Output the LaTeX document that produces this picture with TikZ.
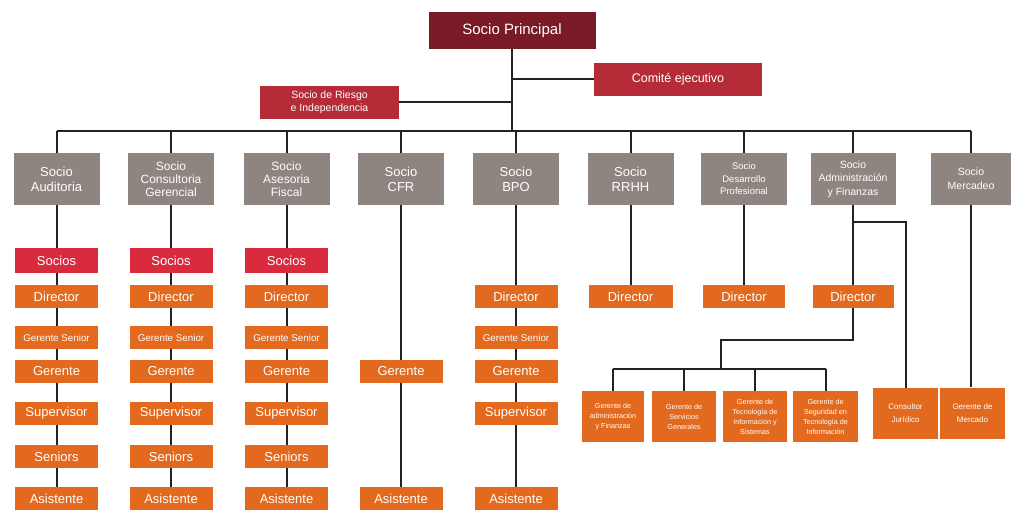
\documentclass[tikz,border=0pt]{standalone}
\usepackage{fontspec}
\setmainfont{Liberation Sans}
\definecolor{cgray}{HTML}{8E8580}
\definecolor{corange}{HTML}{E2691E}
\definecolor{csocios}{HTML}{DA2B3E}
\definecolor{cmaroon}{HTML}{7A1A27}
\definecolor{cred}{HTML}{B52B37}
\definecolor{cline}{HTML}{222222}
\tikzset{
  box/.style={inner sep=0pt, align=center, text=white, font=\fontsize{13}{15}\selectfont},
  graybox/.style={box, fill=cgray, minimum width=86pt, minimum height=52pt},
  obox/.style={box, fill=corange, minimum width=83pt, minimum height=23pt},
  sbox/.style={box, fill=csocios, minimum width=83pt, minimum height=25pt},
  hbox/.style={box, fill=corange, minimum width=64pt, minimum height=51pt, font=\fontsize{7.2}{10}\selectfont},
  gsfont/.style={font=\fontsize{9.8}{11}\selectfont},
  conn/.style={draw=cline, line width=2pt}
}
\begin{document}
\begin{tikzpicture}[x=1pt,y=-1pt]
\useasboundingbox (0,0) rectangle (1011,510);
% top
\node[box, fill=cmaroon, minimum width=167pt, minimum height=37pt, font=\fontsize{15}{17}\selectfont] (sp) at (512,30.5) {Socio Principal};
\node[box, fill=cred, minimum width=168pt, minimum height=33pt, font=\fontsize{12.5}{14}\selectfont] (ce) at (678,79.5) {Comité ejecutivo};
\node[box, fill=cred, minimum width=139pt, minimum height=33pt, font=\fontsize{10.5}{13}\selectfont] (sr) at (329.5,102.5) {Socio de Riesgo\\e Independencia};
% gray partners
\node[graybox] (g1) at (56.5,179) {Socio\\Auditoria};
\node[graybox, font=\fontsize{12}{13}\selectfont] (g2) at (171,179) {Socio\\Consultoria\\Gerencial};
\node[graybox, font=\fontsize{12}{13}\selectfont] (g3) at (286.5,179) {Socio\\Asesoria\\Fiscal};
\node[graybox] (g4) at (401,179) {Socio\\CFR};
\node[graybox] (g5) at (516,179) {Socio\\BPO};
\node[graybox] (g6) at (630.5,179) {Socio\\RRHH};
\node[graybox, font=\fontsize{9.5}{12.5}\selectfont] (g7) at (744,179) {Socio\\Desarrollo\\Profesional};
\node[graybox, minimum width=85pt, font=\fontsize{10.5}{13.5}\selectfont] (g8) at (853,179) {Socio\\Administración\\y Finanzas};
\node[graybox, minimum width=81pt, font=\fontsize{10.5}{14}\selectfont] (g9) at (971,179) {Socio\\Mercadeo};
% columns 1-3
\foreach \c/\x in {1/56.5,2/171,3/286.5}{
  \node[sbox] (s\c) at (\x,260.5) {Socios};
  \node[obox] (d\c) at (\x,296.5) {Director};
  \node[obox, gsfont] (gs\c) at (\x,337.5) {Gerente Senior};
  \node[obox] (ge\c) at (\x,371.5) {Gerente};
  \node[obox] (su\c) at (\x,413.5) {Supervisor};
  \node[obox] (se\c) at (\x,456.5) {Seniors};
  \node[obox] (as\c) at (\x,498.5) {Asistente};
}
% CFR
\node[obox] (ge4) at (401,371.5) {Gerente};
\node[obox] (as4) at (401,498.5) {Asistente};
% BPO
\node[obox] (d5) at (516,296.5) {Director};
\node[obox, gsfont] (gs5) at (516,337.5) {Gerente Senior};
\node[obox] (ge5) at (516,371.5) {Gerente};
\node[obox] (su5) at (516,413.5) {Supervisor};
\node[obox] (as5) at (516,498.5) {Asistente};
% RRHH, Desarrollo, Admin directors
\node[obox, minimum width=84pt] (d6) at (630.5,296.5) {Director};
\node[obox, minimum width=82pt] (d7) at (744,296.5) {Director};
\node[obox, minimum width=81pt] (d8) at (853,296.5) {Director};
% Admin sub-boxes
\node[hbox, minimum width=62pt] (h1) at (613,416.5) {Gerente de\\administración\\y Finanzas};
\node[hbox] (h2) at (684,416.5) {Gerente de\\Servicios\\Generales};
\node[hbox] (h3) at (755,416.5) {Gerente de\\Tecnología de\\Información y\\Sistemas};
\node[hbox, minimum width=65pt] (h4) at (825.5,416.5) {Gerente de\\Seguridad en\\Tecnología de\\Información};
\node[hbox, minimum width=65pt, font=\fontsize{8}{13}\selectfont] (cj) at (905.5,413.5) {Consultor\\Jurídico};
\node[hbox, minimum width=65pt, font=\fontsize{8}{13}\selectfont] (gm) at (972.5,413) {Gerente de\\Mercado};
% coordinates
\coordinate (busL) at (56.5,131);
\coordinate (busR) at (971,131);
\coordinate (aj) at (853,222);
\coordinate (dk) at (721,340);
\coordinate (hb) at (721,369);
% connectors top
\draw[conn] (sp.south) -- (sp.south |- busL);
\draw[conn] (ce.west) -- (ce.west -| sp.south);
\draw[conn] (sr.east) -- (sr.east -| sp.south);
\draw[conn] (busL) -- (busR);
\foreach \i in {1,...,9}{ \draw[conn] (g\i.north) -- (g\i.north |- busL); }
% columns 1-3
\foreach \c in {1,2,3}{
  \draw[conn] (g\c.south) -- (s\c.north) (s\c.south) -- (d\c.north) (d\c.south) -- (gs\c.north)
    (gs\c.south) -- (ge\c.north) (ge\c.south) -- (su\c.north) (su\c.south) -- (se\c.north) (se\c.south) -- (as\c.north);
}
\draw[conn] (g4.south) -- (ge4.north) (ge4.south) -- (as4.north);
\draw[conn] (g5.south) -- (d5.north) (d5.south) -- (gs5.north) (gs5.south) -- (ge5.north)
  (ge5.south) -- (su5.north) (su5.south) -- (as5.north);
\draw[conn] (g6.south) -- (d6.north);
\draw[conn] (g7.south) -- (d7.north);
\draw[conn] (g8.south) -- (d8.north);
\draw[conn] (aj) -| (cj.north);
\draw[conn] (d8.south) |- (dk) -- (hb);
\draw[conn] (h1.north |- hb) -- (h4.north |- hb);
\foreach \i in {1,...,4}{ \draw[conn] (h\i.north) -- (h\i.north |- hb); }
\draw[conn] (g9.south) -- (g9.south |- gm.north);
\end{tikzpicture}
\end{document}
